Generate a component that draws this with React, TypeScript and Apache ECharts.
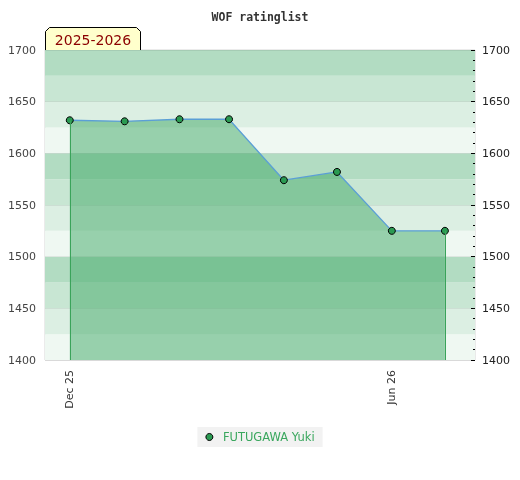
import React, { useEffect, useRef } from "react";
import * as echarts from "echarts";

const seriesName = "FUTUGAWA Yuki";
const titleText = "WOF ratinglist";
const seasonText = "2025-2026";
const dates = [
  "2025-12-01",
  "2026-01-01",
  "2026-02-01",
  "2026-03-01",
  "2026-04-01",
  "2026-05-01",
  "2026-06-01",
  "2026-07-01",
];
const ratings = [1632, 1631, 1633, 1633, 1574, 1582, 1525, 1525];
const xLabelDates = ["2025-12-01", "2026-06-01"];
const xMinDate = "2025-11-17";
const xMaxDate = "2026-07-18";
const yMin = 1400;
const yMax = 1700;
const bandColors = ["#eff8f2", "#dcefe3", "#c8e6d3", "#b2dcc2"];
const monthNames = ["Jan", "Feb", "Mar", "Apr", "May", "Jun", "Jul", "Aug", "Sep", "Oct", "Nov", "Dec"];

const toTs = (s: string) => {
  const [y, m, d] = s.split("-").map(Number);
  return Date.UTC(y, m - 1, d);
};

export default function App() {
  const ref = useRef<HTMLDivElement>(null);
  useEffect(() => {
    if (!ref.current) return;
    const chart = echarts.init(ref.current, null, { renderer: "svg" });
    const data = dates.map((d, i) => [toTs(d), ratings[i]]);
    const first = data[0];
    const last = data[data.length - 1];
    const plain = (v: number) => String(v);
    chart.setOption({
      animation: false,
      title: {
        text: titleText,
        left: "center",
        top: 6,
        textStyle: { fontFamily: "DejaVu Sans Mono", fontWeight: "bold", fontSize: 11.5, color: "#333" },
      },
      grid: {
        left: 45,
        right: 45,
        top: 50,
        bottom: 120,
        show: true,
        borderColor: "#d6d6d6",
        borderWidth: 1,
        backgroundColor: "transparent",
      },
      legend: {
        data: [seriesName],
        top: 427,
        left: "center",
        backgroundColor: "#f2f2f2",
        padding: [4, 8, 4, 8],
        icon: "circle",
        itemWidth: 7,
        itemHeight: 7,
        itemGap: 8,
        itemStyle: { color: "#2a9a52", borderColor: "#000", borderWidth: 1 },
        textStyle: { color: "#3aa75e", fontFamily: "DejaVu Sans", fontSize: 11.5, padding: [0, 0, 0, 5] },
      },
      xAxis: {
        type: "value",
        min: toTs(xMinDate),
        max: toTs(xMaxDate),
        axisLine: { show: false },
        axisTick: { show: false },
        splitLine: { show: false },
        axisLabel: {
          customValues: xLabelDates.map(toTs),
          rotate: 90,
          margin: 10,
          fontFamily: "DejaVu Sans",
          fontSize: 11,
          color: "#333",
          formatter: (v: number) => {
            const d = new Date(v);
            return monthNames[d.getUTCMonth()] + " " + String(d.getUTCFullYear() % 100).padStart(2, "0");
          },
        },
      },
      yAxis: [
        {
          type: "value",
          position: "left",
          min: yMin,
          max: yMax,
          interval: 50,
          axisLine: { show: false },
          axisTick: { show: false },
          splitLine: { show: true, lineStyle: { color: "rgba(0,0,0,0.07)", width: 1 } },
          axisLabel: { margin: 9, fontFamily: "DejaVu Sans", fontSize: 11, color: "#444", formatter: plain },
          z: 1,
        },
        {
          type: "value",
          position: "right",
          min: yMin,
          max: yMax,
          interval: 50,
          axisLine: { show: false },
          axisTick: { show: true, inside: true, length: 4, lineStyle: { color: "#000" } },
          minorTick: { show: true, splitNumber: 5, length: 2, lineStyle: { color: "#000" } },
          splitLine: { show: false },
          axisLabel: { margin: 7, fontFamily: "DejaVu Sans", fontSize: 11, color: "#222", formatter: plain },
          z: 1,
        },
        {
          type: "value",
          position: "left",
          min: yMin,
          max: yMax,
          interval: 25,
          axisLine: { show: false },
          axisTick: { show: false },
          axisLabel: { show: false },
          splitLine: { show: false },
          splitArea: { show: true, areaStyle: { color: bandColors } },
          z: 0,
        },
      ],
      series: [
        {
          name: seriesName,
          type: "line",
          yAxisIndex: 0,
          data,
          symbol: "circle",
          symbolSize: 7,
          itemStyle: { color: "#2a9a52", borderColor: "#000", borderWidth: 1 },
          lineStyle: { color: "#5b9fd6", width: 1.3 },
          areaStyle: { origin: "start", color: "rgba(64,168,102,0.5)", opacity: 1 },
          markLine: {
            silent: true,
            symbol: "none",
            label: { show: false },
            lineStyle: { color: "#3aa35a", type: "solid", width: 1 },
            data: [
              [{ coord: [first[0], yMin] }, { coord: [first[0], first[1]] }],
              [{ coord: [last[0], yMin] }, { coord: [last[0], last[1]] }],
            ],
          },
          z: 3,
        },
      ],
      graphic: [
        {
          type: "group",
          left: 45,
          top: 27,
          children: [
            {
              type: "polygon",
              shape: {
                points: [
                  [0, 23.5],
                  [0, 4],
                  [4, 0],
                  [91, 0],
                  [95, 4],
                  [95, 23.5],
                ],
              },
              style: { fill: "#ffffcc", stroke: "#000", lineWidth: 1 },
            },
            {
              type: "text",
              x: 47.5,
              y: 12.5,
              style: {
                text: seasonText,
                fill: "#8b0000",
                font: "14px 'DejaVu Sans'",
                align: "center",
                verticalAlign: "middle",
              },
            },
          ],
          z: 10,
        },
      ],
    });
    return () => chart.dispose();
  }, []);
  return <div ref={ref} style={{ position: "fixed", left: 0, top: 0, width: 520, height: 480 }} />;
}
